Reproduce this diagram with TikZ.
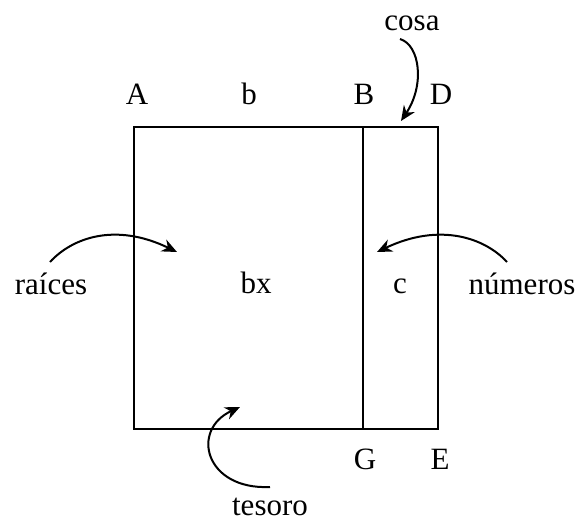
\documentclass[tikz,border=0pt]{standalone}
\usepackage{fontspec}
\setmainfont{Liberation Serif}
\usetikzlibrary{arrows.meta}

\begin{document}
\begin{tikzpicture}[x=0.5pt,y=-0.5pt,
  etiqueta/.style={anchor=base,inner sep=0pt,font=\fontsize{15.5}{18}\selectfont},
  borde/.style={line width=1.2pt},
  flecha/.style={line width=1pt,-{Stealth[length=7.5pt,width=6.5pt]}}]
\useasboundingbox (0,0) rectangle (579,521);

% vertices del cuadrado
\coordinate (pA) at (134,127);
\coordinate (pB) at (363,127);
\coordinate (pD) at (438,127);
\coordinate (pE) at (438,429);
\coordinate (pG) at (363,429);
\coordinate (pF) at (134,429);

% extremos de las flechas
\coordinate (cosa0) at (400,39);
\coordinate (cosa1) at (401,121);
\coordinate (raiz0) at (50,262);
\coordinate (raiz1) at (177,252);
\coordinate (num0) at (507,262);
\coordinate (num1) at (377,252);
\coordinate (tes0) at (270,487);
\coordinate (tes1) at (240,407);

\draw[borde] (pA) -- (pD) -- (pE) -- (pF) -- cycle;
\draw[borde] (pB) -- (pG);

\node[etiqueta] (lA) at (137,104) {A};
\node[etiqueta] (lb) at (249,104) {b};
\node[etiqueta] (lB) at (364,104) {B};
\node[etiqueta] (lD) at (441,104) {D};
\node[etiqueta] (lG) at (365,469) {G};
\node[etiqueta] (lE) at (440,469) {E};
\node[etiqueta] (lbx) at (256,293) {bx};
\node[etiqueta] (lc) at (400,293) {c};

\node[etiqueta] (lcosa) at (412,30) {cosa};
\node[etiqueta] (lraices) at (51,294) {raíces};
\node[etiqueta] (lnumeros) at (522,294) {números};
\node[etiqueta] (ltesoro) at (270,515) {tesoro};

\draw[flecha] (cosa0) .. controls (420,45) and (425,85) .. (cosa1);
\draw[flecha] (raiz0) .. controls (72,238) and (115,222) .. (raiz1);
\draw[flecha] (num0) .. controls (485,238) and (440,222) .. (num1);
\draw[flecha] (tes0) .. controls (205,490) and (190,430) .. (tes1);

\end{tikzpicture}
\end{document}
